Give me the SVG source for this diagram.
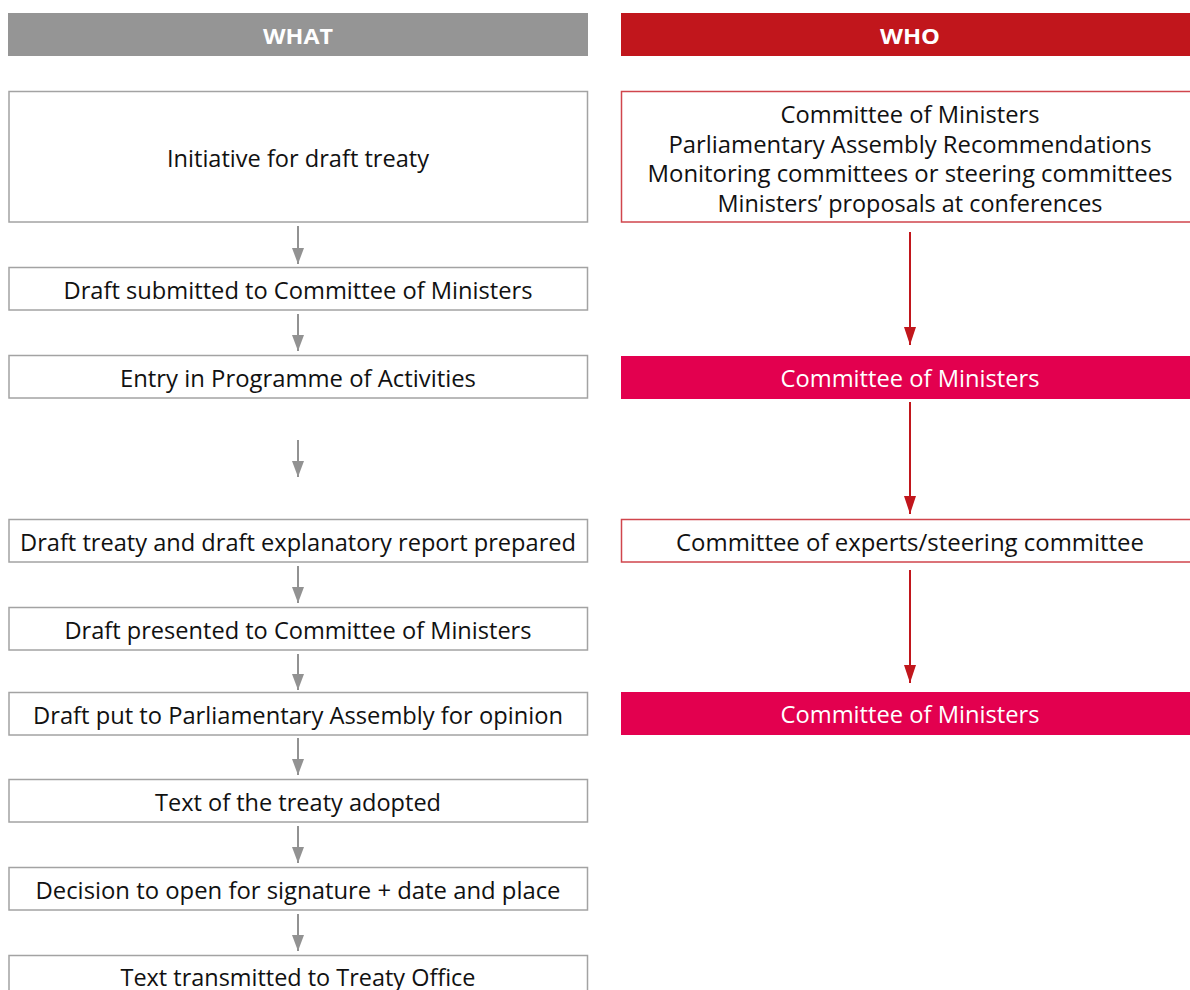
<svg xmlns="http://www.w3.org/2000/svg" width="1190" height="990" viewBox="0 0 1190 990">
<style>
text{font-family:"Open Sans","Noto Sans","Liberation Sans",sans-serif;font-size:24px;text-anchor:middle;fill:#111}
.hd{font-weight:bold;fill:#fff;font-size:22px}
.w{fill:#fff}
.gb{fill:#fff;stroke:#a3a3a3;stroke-width:1.5}
.rb{fill:#fff;stroke:#d0454c;stroke-width:1.5}
.rf{fill:#e3004f}
.ga{stroke:#929292;stroke-width:2;fill:none}
.ra{stroke:#c1161c;stroke-width:2;fill:none}
</style>
<defs>
<marker id="mgd" viewBox="0 0 12 16" refX="6" refY="16" markerWidth="12" markerHeight="16" markerUnits="userSpaceOnUse" orient="0"><path d="M0,0 L12,0 L6,16 Z" fill="#929292"/></marker>
<marker id="mrd" viewBox="0 0 12 18" refX="6" refY="18" markerWidth="12" markerHeight="18" markerUnits="userSpaceOnUse" orient="0"><path d="M0,0 L12,0 L6,18 Z" fill="#c1161c"/></marker>
</defs>
<rect width="1190" height="990" fill="#fff"/>
<g id="hdr-what"><rect x="8" y="13" width="580" height="43" fill="#959595"/><text class="hd" x="298" y="44" textLength="70" lengthAdjust="spacingAndGlyphs">WHAT</text></g>
<g id="hdr-who"><rect x="621" y="13" width="580" height="43" fill="#c1161c"/><text class="hd" x="910" y="44" textLength="60" lengthAdjust="spacingAndGlyphs">WHO</text></g>

<g id="w1"><rect class="gb" x="9" y="91.5" width="578.5" height="130.5"/><text x="298" y="167" textLength="262" lengthAdjust="spacingAndGlyphs">Initiative for draft treaty</text></g>
<g id="w2"><rect class="gb" x="9" y="267.5" width="578.5" height="42.5"/><text x="298" y="299" textLength="469" lengthAdjust="spacingAndGlyphs">Draft submitted to Committee of Ministers</text></g>
<g id="w3"><rect class="gb" x="9" y="355.5" width="578.5" height="42.5"/><text x="298" y="387" textLength="356" lengthAdjust="spacingAndGlyphs">Entry in Programme of Activities</text></g>
<g id="w4"><rect class="gb" x="9" y="519.5" width="578.5" height="42.5"/><text x="298" y="551" textLength="556" lengthAdjust="spacingAndGlyphs">Draft treaty and draft explanatory report prepared</text></g>
<g id="w5"><rect class="gb" x="9" y="607.5" width="578.5" height="42.5"/><text x="298" y="639" textLength="467" lengthAdjust="spacingAndGlyphs">Draft presented to Committee of Ministers</text></g>
<g id="w6"><rect class="gb" x="9" y="692.5" width="578.5" height="42.5"/><text x="298" y="724" textLength="530" lengthAdjust="spacingAndGlyphs">Draft put to Parliamentary Assembly for opinion</text></g>
<g id="w7"><rect class="gb" x="9" y="779.5" width="578.5" height="42.5"/><text x="298" y="811" textLength="286" lengthAdjust="spacingAndGlyphs">Text of the treaty adopted</text></g>
<g id="w8"><rect class="gb" x="9" y="867.5" width="578.5" height="42.5"/><text x="298" y="899" textLength="525" lengthAdjust="spacingAndGlyphs">Decision to open for signature + date and place</text></g>
<g id="w9"><rect class="gb" x="9" y="955.5" width="578.5" height="42.5"/><text x="298" y="986" textLength="355" lengthAdjust="spacingAndGlyphs">Text transmitted to Treaty Office</text></g>

<g id="r1"><rect class="rb" x="621.5" y="91.5" width="580" height="130.5"/>
<text x="910" y="123" textLength="259" lengthAdjust="spacingAndGlyphs">Committee of Ministers</text>
<text x="910" y="152.5" textLength="483" lengthAdjust="spacingAndGlyphs">Parliamentary Assembly Recommendations</text>
<text x="910" y="182" textLength="525" lengthAdjust="spacingAndGlyphs">Monitoring committees or steering committees</text>
<text x="910" y="211.5" textLength="385" lengthAdjust="spacingAndGlyphs">Ministers’ proposals at conferences</text></g>
<g id="r2"><rect class="rf" x="621" y="356" width="580" height="43"/><text class="w" x="910" y="387" textLength="259" lengthAdjust="spacingAndGlyphs">Committee of Ministers</text></g>
<g id="r3"><rect class="rb" x="621.5" y="519.5" width="580" height="42.5"/><text x="910" y="551" textLength="468" lengthAdjust="spacingAndGlyphs">Committee of experts/steering committee</text></g>
<g id="r4"><rect class="rf" x="621" y="692" width="580" height="43"/><text class="w" x="910" y="723" textLength="259" lengthAdjust="spacingAndGlyphs">Committee of Ministers</text></g>

<g id="connectors">
<line class="ga" x1="298" y1="226" x2="298" y2="264" marker-end="url(#mgd)"/>
<line class="ga" x1="298" y1="314" x2="298" y2="351" marker-end="url(#mgd)"/>
<line class="ga" x1="298" y1="440" x2="298" y2="477" marker-end="url(#mgd)"/>
<line class="ga" x1="298" y1="566" x2="298" y2="603" marker-end="url(#mgd)"/>
<line class="ga" x1="298" y1="654" x2="298" y2="690" marker-end="url(#mgd)"/>
<line class="ga" x1="298" y1="738" x2="298" y2="775" marker-end="url(#mgd)"/>
<line class="ga" x1="298" y1="826" x2="298" y2="863" marker-end="url(#mgd)"/>
<line class="ga" x1="298" y1="914" x2="298" y2="951" marker-end="url(#mgd)"/>
<line class="ra" x1="910" y1="232" x2="910" y2="345" marker-end="url(#mrd)"/>
<line class="ra" x1="910" y1="402" x2="910" y2="514" marker-end="url(#mrd)"/>
<line class="ra" x1="910" y1="570" x2="910" y2="683" marker-end="url(#mrd)"/>
</g>
</svg>
